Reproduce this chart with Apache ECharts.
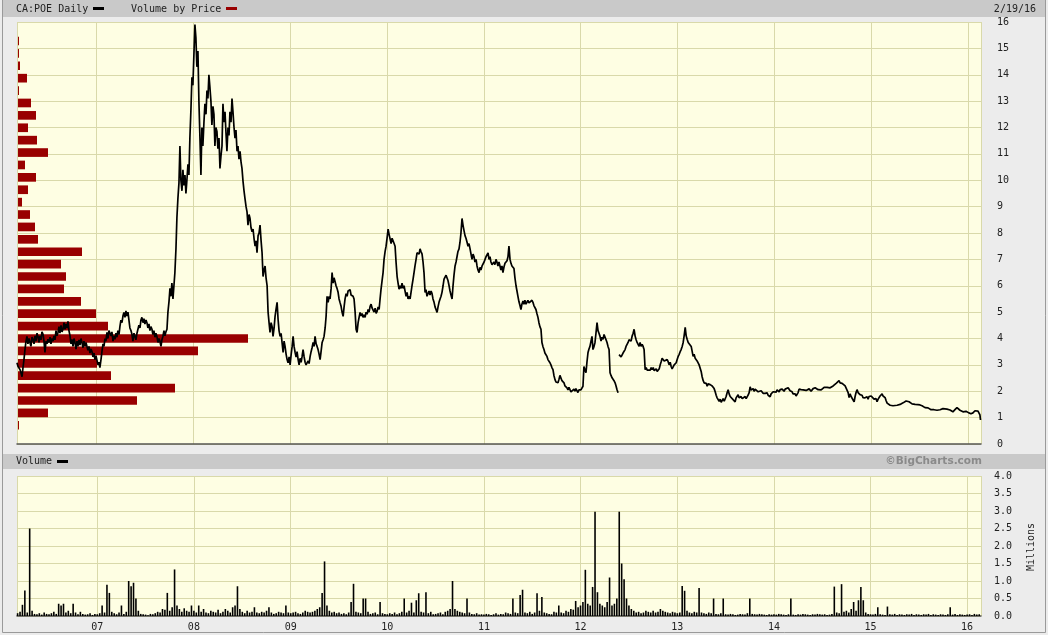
<!DOCTYPE html>
<html>
<head>
<meta charset="utf-8">
<script src="https://cdn.jsdelivr.net/npm/echarts@6/dist/echarts.min.js"></script>
<style>
html,body{margin:0;padding:0;background:#ececec;}
#chart{width:1048px;height:635px;}
</style>
</head>
<body>
<div id="chart"></div>
<script>
// ---------- DATA (dates as decimal years, close prices) ----------
const price2006 = [[2006.177,3.08],[2006.187,2.95],[2006.198,3.0],[2006.208,2.82],[2006.218,2.7],[2006.229,2.55],[2006.239,2.9],[2006.249,3.20],[2006.260,3.6],[2006.270,3.9],[2006.280,4.08],[2006.290,3.8],[2006.301,4.0],[2006.311,3.85],[2006.321,3.7],[2006.332,4.05],[2006.342,3.97],[2006.353,3.8],[2006.363,4.1],[2006.373,3.9],[2006.384,4.2],[2006.394,4.08],[2006.404,3.85],[2006.415,4.1],[2006.425,3.95],[2006.435,4.25],[2006.446,4.16],[2006.456,3.9],[2006.466,3.47],[2006.477,3.9],[2006.487,3.8],[2006.497,3.97],[2006.508,3.85],[2006.518,4.05],[2006.528,3.8],[2006.539,4.0],[2006.549,3.90],[2006.559,4.1],[2006.570,3.95],[2006.580,4.3],[2006.590,4.1],[2006.601,4.23],[2006.611,4.45],[2006.621,4.2],[2006.632,4.5],[2006.642,4.25],[2006.652,4.35],[2006.663,4.6],[2006.673,4.35],[2006.683,4.55],[2006.694,4.4],[2006.704,4.65],[2006.714,4.3],[2006.725,4.1],[2006.735,3.8],[2006.745,3.97],[2006.756,3.7],[2006.766,4.0],[2006.776,3.85],[2006.787,3.6],[2006.797,3.9],[2006.807,3.70],[2006.818,3.95],[2006.828,3.75],[2006.838,4.0],[2006.848,3.85],[2006.859,3.65],[2006.869,3.9],[2006.879,3.7],[2006.890,3.85],[2006.900,3.78],[2006.910,3.55],[2006.921,3.7],[2006.931,3.45],[2006.941,3.6],[2006.952,3.50],[2006.962,3.3],[2006.973,3.45],[2006.983,3.2],[2006.993,3.35]];
const price2007 = [[2007.003,3.28],[2007.014,3.0],[2007.024,3.1],[2007.034,2.90],[2007.045,3.2],[2007.055,3.50],[2007.066,3.8],[2007.076,3.7],[2007.086,4.0],[2007.096,3.9],[2007.107,4.23],[2007.117,4.0],[2007.127,4.3],[2007.138,4.35],[2007.148,4.1],[2007.158,4.25],[2007.169,3.9],[2007.179,4.1],[2007.189,3.97],[2007.200,4.2],[2007.210,4.05],[2007.220,4.3],[2007.231,4.15],[2007.241,4.46],[2007.251,4.7],[2007.262,4.6],[2007.272,4.85],[2007.282,4.99],[2007.293,4.8],[2007.303,5.05],[2007.313,4.85],[2007.324,5.00],[2007.334,4.7],[2007.344,4.4],[2007.355,4.3],[2007.365,4.16],[2007.375,3.9],[2007.386,4.2],[2007.396,4.08],[2007.406,3.95],[2007.417,4.2],[2007.427,4.27],[2007.437,4.5],[2007.448,4.4],[2007.458,4.7],[2007.468,4.80],[2007.479,4.6],[2007.489,4.75],[2007.499,4.55],[2007.510,4.7],[2007.520,4.60],[2007.530,4.4],[2007.541,4.55],[2007.551,4.3],[2007.561,4.45],[2007.572,4.35],[2007.582,4.15],[2007.592,4.3],[2007.603,4.05],[2007.613,4.2],[2007.623,4.08],[2007.634,3.85],[2007.644,4.0],[2007.654,3.90],[2007.665,3.7],[2007.675,3.95],[2007.685,4.08],[2007.696,4.3],[2007.706,4.1],[2007.716,4.25],[2007.727,4.35],[2007.737,5.00],[2007.748,5.4],[2007.758,5.90],[2007.768,5.6],[2007.778,6.10],[2007.789,5.50],[2007.799,6.0],[2007.809,6.50],[2007.820,7.40],[2007.830,8.60],[2007.840,9.30],[2007.851,9.90],[2007.861,11.30],[2007.871,10.00],[2007.882,9.60],[2007.892,10.40],[2007.902,9.80],[2007.913,10.20],[2007.923,9.50],[2007.933,10.00],[2007.944,10.60],[2007.954,10.20],[2007.964,11.60],[2007.975,12.70],[2007.985,13.90],[2007.995,13.60]];
const price2008 = [[2008.016,15.9],[2008.026,15.4],[2008.036,14.3],[2008.047,14.9],[2008.057,13.0],[2008.067,11.7],[2008.078,10.2],[2008.088,12.0],[2008.098,11.3],[2008.109,12.2],[2008.119,12.9],[2008.130,12.5],[2008.140,13.4],[2008.150,13.1],[2008.160,14.0],[2008.171,13.5],[2008.181,13.0],[2008.191,12.1],[2008.202,12.8],[2008.212,12.5],[2008.222,11.3],[2008.232,12.0],[2008.243,11.85],[2008.253,11.2],[2008.264,11.6],[2008.274,10.45],[2008.284,10.9],[2008.295,11.3],[2008.305,12.9],[2008.315,12.2],[2008.326,12.6],[2008.336,11.8],[2008.346,11.1],[2008.357,12.0],[2008.367,11.7],[2008.377,12.6],[2008.388,12.2],[2008.398,13.1],[2008.408,12.6],[2008.419,12.0],[2008.429,11.6],[2008.439,11.9],[2008.450,11.1],[2008.460,11.3],[2008.470,10.8],[2008.481,11.1],[2008.491,10.7],[2008.501,10.45],[2008.512,9.95],[2008.522,9.6],[2008.532,9.3],[2008.543,9.0],[2008.553,8.8],[2008.563,8.3],[2008.574,8.7],[2008.584,8.55],[2008.594,8.2],[2008.605,8.05],[2008.615,8.15],[2008.625,7.8],[2008.636,7.5],[2008.646,7.7],[2008.656,7.25],[2008.667,7.9],[2008.677,8.0],[2008.687,8.3],[2008.698,7.7],[2008.708,7.25],[2008.718,6.35],[2008.729,6.6],[2008.739,6.75],[2008.749,6.3],[2008.760,6.0],[2008.770,5.0],[2008.780,4.6],[2008.790,4.23],[2008.801,4.6],[2008.811,4.46],[2008.821,4.08],[2008.832,4.4],[2008.842,4.84],[2008.852,5.1],[2008.863,5.37],[2008.873,4.73],[2008.883,4.3],[2008.894,4.08],[2008.904,4.2],[2008.914,3.85],[2008.925,3.47],[2008.935,3.9],[2008.945,3.7],[2008.956,3.4],[2008.966,3.2],[2008.976,3.08],[2008.987,3.3],[2008.997,3.0]];
const price2009 = [[2009.008,3.4],[2009.018,3.70],[2009.028,4.08],[2009.038,3.7],[2009.049,3.47],[2009.059,3.3],[2009.069,3.5],[2009.080,3.20],[2009.090,3.0],[2009.100,3.25],[2009.111,3.1],[2009.121,3.32],[2009.131,3.58],[2009.142,3.3],[2009.152,3.1],[2009.162,3.0],[2009.173,2.94],[2009.183,3.15],[2009.193,3.05],[2009.204,3.32],[2009.214,3.5],[2009.224,3.65],[2009.235,3.85],[2009.245,3.7],[2009.255,4.08],[2009.266,3.8],[2009.276,3.7],[2009.286,3.58],[2009.297,3.4],[2009.307,3.20],[2009.317,3.5],[2009.328,3.85],[2009.338,3.95],[2009.348,4.08],[2009.359,4.4],[2009.369,4.84],[2009.379,5.60],[2009.390,5.37],[2009.400,5.6],[2009.410,5.50],[2009.421,5.9],[2009.431,6.50],[2009.441,6.10],[2009.451,6.3],[2009.462,6.15],[2009.472,6.00],[2009.482,5.9],[2009.493,5.75],[2009.503,5.5],[2009.514,5.35],[2009.524,5.22],[2009.534,5.0],[2009.545,4.84],[2009.555,5.2],[2009.565,5.50],[2009.576,5.7],[2009.586,5.6],[2009.596,5.80],[2009.607,5.75],[2009.617,5.85],[2009.627,5.65],[2009.638,5.70],[2009.648,5.6],[2009.658,5.50],[2009.669,5.0],[2009.679,4.35],[2009.689,4.23],[2009.700,4.6],[2009.710,4.8],[2009.720,4.99],[2009.731,4.85],[2009.741,4.95],[2009.751,4.80],[2009.762,4.9],[2009.772,4.8],[2009.782,5.0],[2009.793,4.92],[2009.803,5.1],[2009.813,5.0],[2009.824,5.22],[2009.834,5.3],[2009.845,5.15],[2009.855,5.10],[2009.865,5.0],[2009.876,5.15],[2009.886,4.95],[2009.896,5.03],[2009.907,5.2],[2009.917,5.10],[2009.927,5.5],[2009.937,5.87],[2009.948,6.2],[2009.958,6.50],[2009.968,7.00],[2009.979,7.3],[2009.989,7.50],[2009.999,7.8]];
const price2010 = [[2010.010,8.15],[2010.020,7.95],[2010.030,7.90],[2010.041,7.6],[2010.051,7.8],[2010.061,7.75],[2010.072,7.6],[2010.082,7.50],[2010.092,6.90],[2010.103,6.35],[2010.113,6.1],[2010.123,5.87],[2010.134,6.0],[2010.144,5.9],[2010.154,6.10],[2010.165,5.9],[2010.175,6.00],[2010.185,5.8],[2010.196,5.60],[2010.206,5.75],[2010.216,5.50],[2010.226,5.6],[2010.237,5.5],[2010.247,5.75],[2010.257,6.0],[2010.268,6.25],[2010.278,6.5],[2010.288,6.75],[2010.299,7.0],[2010.309,7.25],[2010.319,7.3],[2010.330,7.2],[2010.340,7.40],[2010.350,7.3],[2010.361,7.20],[2010.371,6.9],[2010.381,6.50],[2010.392,5.75],[2010.402,5.85],[2010.412,5.6],[2010.423,5.60],[2010.433,5.8],[2010.443,5.65],[2010.454,5.8],[2010.464,5.70],[2010.474,5.5],[2010.485,5.37],[2010.495,5.2],[2010.505,5.1],[2010.516,4.99],[2010.526,5.2],[2010.536,5.37],[2010.547,5.5],[2010.557,5.6],[2010.567,5.75],[2010.578,6.0],[2010.588,6.25],[2010.598,6.2],[2010.609,6.4],[2010.619,6.35],[2010.629,6.2],[2010.640,6.00],[2010.650,5.8],[2010.660,5.65],[2010.671,5.50],[2010.681,6.00],[2010.691,6.4],[2010.702,6.75],[2010.712,6.9],[2010.722,7.10],[2010.732,7.3],[2010.743,7.4],[2010.753,7.65],[2010.763,8.0],[2010.774,8.55],[2010.784,8.30],[2010.794,8.1],[2010.805,7.90],[2010.815,7.8],[2010.826,7.65],[2010.836,7.5],[2010.846,7.6],[2010.857,7.40],[2010.867,7.2],[2010.877,7.00],[2010.888,7.2],[2010.898,7.10],[2010.908,6.9],[2010.919,7.0],[2010.929,6.75],[2010.939,6.6],[2010.950,6.50],[2010.960,6.7],[2010.970,6.6],[2010.981,6.75]];
const price2011 = [[2011.002,6.9],[2011.012,7.00],[2011.022,7.1],[2011.033,7.05],[2011.043,7.25],[2011.053,7.0],[2011.063,7.1],[2011.073,6.90],[2011.084,6.8],[2011.094,6.75],[2011.104,6.9],[2011.114,6.8],[2011.125,7.0],[2011.135,6.90],[2011.145,6.75],[2011.156,6.9],[2011.166,6.75],[2011.176,6.6],[2011.187,6.75],[2011.197,6.50],[2011.207,6.7],[2011.218,6.85],[2011.228,6.8],[2011.239,6.95],[2011.249,7.1],[2011.259,7.50],[2011.270,7.0],[2011.280,6.85],[2011.290,6.75],[2011.300,6.8],[2011.311,6.65],[2011.321,6.3],[2011.332,6.00],[2011.342,5.8],[2011.352,5.60],[2011.362,5.4],[2011.373,5.25],[2011.383,5.10],[2011.393,5.3],[2011.404,5.42],[2011.414,5.3],[2011.424,5.45],[2011.435,5.3],[2011.445,5.37],[2011.455,5.45],[2011.466,5.35],[2011.476,5.42],[2011.486,5.3],[2011.497,5.45],[2011.507,5.37],[2011.517,5.25],[2011.528,5.2],[2011.538,5.10],[2011.548,4.95],[2011.559,4.80],[2011.569,4.6],[2011.579,4.45],[2011.590,4.35],[2011.600,3.85],[2011.610,3.7],[2011.621,3.58],[2011.631,3.45],[2011.641,3.5],[2011.652,3.32],[2011.662,3.2],[2011.672,3.25],[2011.683,3.08],[2011.693,3.0],[2011.703,2.9],[2011.714,2.82],[2011.724,2.6],[2011.735,2.44],[2011.745,2.35],[2011.755,2.4],[2011.766,2.32],[2011.776,2.45],[2011.786,2.6],[2011.797,2.55],[2011.807,2.4],[2011.817,2.45],[2011.828,2.32],[2011.838,2.2],[2011.848,2.25],[2011.859,2.13],[2011.869,2.05],[2011.879,2.15],[2011.890,2.06],[2011.900,1.98],[2011.910,2.05],[2011.920,1.98],[2011.931,2.08],[2011.941,2.0],[2011.951,2.1],[2011.962,2.06],[2011.972,1.95],[2011.982,2.05],[2011.993,1.98]];
const price2012 = [[2012.003,2.05],[2012.014,2.1],[2012.024,2.19],[2012.034,2.94],[2012.045,2.8],[2012.055,2.70],[2012.065,3.1],[2012.076,3.47],[2012.086,3.6],[2012.096,3.70],[2012.107,3.9],[2012.117,4.08],[2012.127,3.58],[2012.138,3.7],[2012.148,3.85],[2012.158,4.2],[2012.169,4.60],[2012.179,4.3],[2012.189,4.2],[2012.200,4.08],[2012.210,3.9],[2012.220,4.05],[2012.231,3.97],[2012.241,4.15],[2012.251,4.08],[2012.262,3.95],[2012.272,3.85],[2012.282,3.7],[2012.293,3.58],[2012.303,2.70],[2012.313,2.6],[2012.324,2.51],[2012.334,2.45],[2012.344,2.4],[2012.355,2.32],[2012.365,2.2],[2012.375,2.06],[2012.386,1.94],[2012.391,null],[2012.396,3.39],[2012.406,3.45],[2012.417,3.3],[2012.427,3.32],[2012.437,3.45],[2012.448,3.5],[2012.458,3.58],[2012.468,3.7],[2012.479,3.75],[2012.489,3.85],[2012.499,3.95],[2012.510,4.0],[2012.520,3.9],[2012.530,4.08],[2012.541,4.2],[2012.551,4.35],[2012.561,4.1],[2012.572,3.95],[2012.582,3.85],[2012.592,3.8],[2012.603,3.70],[2012.613,3.85],[2012.623,3.7],[2012.634,3.78],[2012.644,3.7],[2012.654,3.58],[2012.665,2.82],[2012.675,2.9],[2012.686,2.8],[2012.696,2.75],[2012.706,2.85],[2012.717,2.8],[2012.727,2.9],[2012.737,2.82],[2012.748,2.9],[2012.758,2.78],[2012.768,2.75],[2012.779,2.85],[2012.789,2.75],[2012.799,2.70],[2012.810,2.85],[2012.820,3.0],[2012.830,3.12],[2012.840,3.25],[2012.850,3.28],[2012.861,3.15],[2012.871,3.2],[2012.881,3.08],[2012.892,3.2],[2012.902,3.12],[2012.912,3.0],[2012.923,3.1],[2012.933,2.94],[2012.943,2.85],[2012.954,2.90],[2012.964,3.0],[2012.975,2.95],[2012.985,3.08],[2012.995,3.2]];
const price2013 = [[2013.005,3.32],[2013.016,3.4],[2013.026,3.5],[2013.036,3.58],[2013.047,3.7],[2013.057,3.85],[2013.067,4.1],[2013.078,4.42],[2013.088,4.1],[2013.098,3.97],[2013.109,3.85],[2013.119,3.78],[2013.129,3.85],[2013.140,3.7],[2013.150,3.70],[2013.160,3.32],[2013.170,3.4],[2013.181,3.25],[2013.191,3.28],[2013.201,3.15],[2013.212,3.08],[2013.222,3.0],[2013.233,2.94],[2013.243,2.75],[2013.253,2.55],[2013.264,2.4],[2013.274,2.32],[2013.284,2.25],[2013.295,2.3],[2013.305,2.19],[2013.315,2.28],[2013.326,2.32],[2013.336,2.25],[2013.346,2.3],[2013.357,2.2],[2013.367,2.25],[2013.377,2.1],[2013.388,1.98],[2013.398,1.85],[2013.408,1.75],[2013.419,1.68],[2013.429,1.62],[2013.439,1.7],[2013.450,1.58],[2013.460,1.60],[2013.470,1.72],[2013.481,1.62],[2013.491,1.68],[2013.501,1.8],[2013.512,1.95],[2013.522,2.06],[2013.532,1.9],[2013.543,1.8],[2013.553,1.85],[2013.563,1.79],[2013.573,1.68],[2013.584,1.72],[2013.594,1.60],[2013.604,1.75],[2013.615,1.8],[2013.625,1.87],[2013.635,1.75],[2013.646,1.68],[2013.656,1.8],[2013.667,1.72],[2013.677,1.79],[2013.687,1.7],[2013.698,1.8],[2013.708,1.72],[2013.718,1.76],[2013.728,1.85],[2013.739,1.95],[2013.749,2.17],[2013.759,2.05],[2013.770,2.12],[2013.780,2.10],[2013.790,2.0],[2013.801,2.08],[2013.811,2.02],[2013.821,2.06],[2013.832,1.98],[2013.842,2.04],[2013.852,1.96],[2013.863,2.02],[2013.873,1.98],[2013.883,1.92],[2013.894,1.98],[2013.904,1.92],[2013.914,1.97],[2013.925,1.94],[2013.935,1.85],[2013.945,1.82],[2013.956,1.79],[2013.966,1.9],[2013.976,1.95],[2013.987,1.98]];
const price2014 = [[2014.007,2.04],[2014.018,1.97],[2014.028,2.05],[2014.038,2.02],[2014.049,1.98],[2014.059,2.06],[2014.069,2.0],[2014.080,2.08],[2014.090,2.06],[2014.100,2.0],[2014.111,2.08],[2014.121,2.12],[2014.131,2.05],[2014.142,2.13],[2014.152,2.08],[2014.162,2.02],[2014.173,2.05],[2014.183,1.98],[2014.193,1.9],[2014.204,1.85],[2014.214,1.9],[2014.224,1.82],[2014.235,1.79],[2014.245,1.95],[2014.255,2.08],[2014.266,2.13],[2014.276,2.06],[2014.286,2.12],[2014.297,2.05],[2014.307,2.1],[2014.317,2.10],[2014.328,2.03],[2014.338,2.08],[2014.348,2.02],[2014.359,2.09],[2014.369,2.06],[2014.379,2.0],[2014.390,2.07],[2014.400,2.1],[2014.410,2.05],[2014.421,2.13],[2014.431,2.08],[2014.441,2.12],[2014.452,2.06],[2014.462,2.12],[2014.472,2.10],[2014.483,2.05],[2014.493,2.12],[2014.503,2.08],[2014.514,2.15],[2014.524,2.13],[2014.534,2.08],[2014.545,2.15],[2014.555,2.1],[2014.565,2.16],[2014.576,2.13],[2014.586,2.18],[2014.596,2.14],[2014.607,2.2],[2014.617,2.18],[2014.627,2.25],[2014.638,2.3],[2014.648,2.28],[2014.658,2.35],[2014.668,2.40],[2014.679,2.32],[2014.689,2.38],[2014.700,2.3],[2014.710,2.25],[2014.720,2.3],[2014.731,2.2],[2014.741,2.25],[2014.751,2.13],[2014.762,1.95],[2014.772,1.76],[2014.782,1.9],[2014.793,1.8],[2014.803,1.87],[2014.813,1.75],[2014.824,1.60],[2014.834,1.8],[2014.844,1.95],[2014.854,2.06],[2014.865,1.95],[2014.875,1.92],[2014.885,1.87],[2014.896,1.8],[2014.906,1.85],[2014.916,1.76],[2014.927,1.82],[2014.937,1.75],[2014.947,1.82],[2014.958,1.79],[2014.968,1.7],[2014.978,1.8],[2014.989,1.76]];
const price2015 = [[2015.000,1.82],[2015.010,1.75],[2015.020,1.79],[2015.030,1.7],[2015.041,1.65],[2015.051,1.72],[2015.061,1.60],[2015.072,1.7],[2015.082,1.75],[2015.092,1.82],[2015.103,1.85],[2015.113,1.90],[2015.123,1.82],[2015.134,1.8],[2015.144,1.76],[2015.154,1.65],[2015.165,1.55],[2015.175,1.49],[2015.185,1.52],[2015.196,1.47],[2015.206,1.5],[2015.216,1.44],[2015.226,1.45],[2015.237,1.5],[2015.247,1.46],[2015.257,1.52],[2015.268,1.47],[2015.278,1.49],[2015.288,1.54],[2015.299,1.5],[2015.309,1.56],[2015.319,1.52],[2015.330,1.56],[2015.340,1.6],[2015.350,1.57],[2015.361,1.63],[2015.371,1.58],[2015.381,1.64],[2015.392,1.6],[2015.402,1.56],[2015.412,1.58],[2015.423,1.52],[2015.433,1.53],[2015.443,1.56],[2015.454,1.5],[2015.464,1.53],[2015.474,1.47],[2015.484,1.49],[2015.495,1.45],[2015.505,1.48],[2015.515,1.42],[2015.526,1.45],[2015.536,1.41],[2015.546,1.44],[2015.557,1.38],[2015.567,1.41],[2015.577,1.36],[2015.588,1.37],[2015.598,1.33],[2015.608,1.36],[2015.619,1.3],[2015.629,1.28],[2015.639,1.26],[2015.650,1.3],[2015.660,1.27],[2015.670,1.32],[2015.681,1.28],[2015.691,1.30],[2015.701,1.34],[2015.712,1.3],[2015.722,1.35],[2015.732,1.31],[2015.742,1.34],[2015.753,1.3],[2015.763,1.33],[2015.773,1.28],[2015.784,1.32],[2015.794,1.30],[2015.804,1.26],[2015.815,1.29],[2015.825,1.24],[2015.835,1.27],[2015.845,1.22],[2015.856,1.26],[2015.866,1.3],[2015.876,1.35],[2015.887,1.38],[2015.897,1.41],[2015.907,1.32],[2015.918,1.28],[2015.928,1.25],[2015.938,1.27],[2015.949,1.22],[2015.959,1.25],[2015.969,1.21],[2015.980,1.24],[2015.990,1.2]];
const price2016 = [[2016.000,1.22],[2016.010,1.18],[2016.021,1.2],[2016.031,1.15],[2016.042,1.14],[2016.052,1.18],[2016.062,1.22],[2016.073,1.26],[2016.083,1.3],[2016.093,1.30],[2016.104,1.25],[2016.114,1.28],[2016.124,1.1],[2016.130,0.91]];

// Volume (millions), 40 slots per year
const vol2006 = [null,null,null,null,null,null,null,0.08,0.12,0.32,0.73,0.10,2.50,0.15,0.06,0.05,0.08,0.04,0.10,0.06,0.05,0.08,0.12,0.06,0.35,0.30,0.35,0.10,0.15,0.08,0.35,0.10,0.05,0.12,0.06,0.04,0.05,0.08,0.03,0.06];
const vol2007 = [0.05,0.08,0.30,0.10,0.89,0.66,0.12,0.08,0.05,0.10,0.30,0.06,0.12,1.00,0.85,0.95,0.50,0.15,0.06,0.05,0.04,0.02,0.06,0.05,0.08,0.12,0.10,0.20,0.18,0.66,0.15,0.25,1.33,0.30,0.20,0.12,0.22,0.15,0.12,0.30];
const vol2008 = [0.15,0.10,0.30,0.12,0.20,0.10,0.08,0.15,0.12,0.10,0.18,0.08,0.12,0.20,0.15,0.10,0.25,0.30,0.85,0.20,0.12,0.08,0.15,0.10,0.12,0.25,0.10,0.08,0.12,0.10,0.15,0.25,0.10,0.06,0.08,0.12,0.10,0.08,0.30,0.10];
const vol2009 = [0.08,0.10,0.12,0.08,0.06,0.10,0.15,0.12,0.10,0.12,0.15,0.20,0.25,0.66,1.56,0.30,0.15,0.10,0.12,0.08,0.10,0.06,0.08,0.05,0.10,0.40,0.92,0.12,0.10,0.08,0.50,0.50,0.12,0.06,0.08,0.10,0.05,0.40,0.08,0.06];
const vol2010 = [0.05,0.08,0.06,0.10,0.05,0.08,0.12,0.50,0.10,0.15,0.38,0.10,0.45,0.65,0.12,0.10,0.68,0.08,0.12,0.05,0.06,0.08,0.10,0.05,0.12,0.15,0.20,1.00,0.20,0.15,0.12,0.10,0.08,0.50,0.10,0.06,0.05,0.08,0.04,0.05];
const vol2011 = [0.04,0.06,0.05,0.03,0.05,0.08,0.04,0.06,0.05,0.10,0.08,0.06,0.50,0.10,0.08,0.60,0.75,0.10,0.08,0.12,0.06,0.10,0.65,0.15,0.54,0.10,0.08,0.06,0.05,0.12,0.10,0.30,0.10,0.08,0.15,0.12,0.20,0.18,0.43,0.25];
const vol2012 = [0.30,0.40,1.32,0.35,0.30,0.83,2.98,0.68,0.35,0.30,0.25,0.40,1.10,0.30,0.35,0.50,2.98,1.50,1.05,0.50,0.30,0.20,0.15,0.10,0.12,0.08,0.10,0.15,0.12,0.10,0.15,0.10,0.12,0.20,0.15,0.12,0.10,0.08,0.12,0.10];
const vol2013 = [0.08,0.10,0.86,0.72,0.15,0.10,0.08,0.12,0.10,0.80,0.10,0.08,0.06,0.10,0.08,0.50,0.06,0.05,0.08,0.50,0.05,0.04,0.06,0.05,0.03,0.04,0.06,0.05,0.04,0.08,0.50,0.06,0.05,0.04,0.06,0.05,0.04,0.03,0.05,0.04];
const vol2014 = [0.05,0.04,0.06,0.05,0.04,0.03,0.05,0.50,0.04,0.03,0.05,0.04,0.06,0.05,0.04,0.03,0.05,0.04,0.06,0.05,0.04,0.05,0.03,0.04,0.06,0.84,0.10,0.08,0.91,0.12,0.15,0.10,0.20,0.40,0.15,0.45,0.83,0.45,0.10,0.06];
const vol2015 = [0.05,0.04,0.06,0.25,0.05,0.04,0.03,0.27,0.05,0.04,0.06,0.03,0.05,0.04,0.03,0.05,0.04,0.06,0.03,0.05,0.04,0.03,0.05,0.04,0.06,0.03,0.05,0.04,0.03,0.05,0.04,0.03,0.05,0.25,0.04,0.06,0.03,0.05,0.04,0.03];
const vol2016 = [0.04,0.05,0.03,0.06,0.04,0.05];

// Volume by price (relative volume per price bucket)
const vbpPrice = [15.28,14.81,14.34,13.87,13.40,12.93,12.46,11.99,11.52,11.05,10.58,10.11,9.64,9.17,8.70,8.23,7.76,7.29,6.82,6.35,5.88,5.41,4.94,4.47,4.00,3.53,3.06,2.59,2.12,1.65,1.18,0.71];
const vbpVolume = [1,1,2,9,1,13,18,10,19,30,7,18,10,4,12,17,20,64,43,48,46,63,78,90,230,180,79,93,157,119,30,1];
const vbpBucket = 0.47;

const startYear = 2006.177, endYear = 2016.135;
const priceTicks = [0,1,2,3,4,5,6,7,8,9,10,11,12,13,14,15,16];
const volTicks = [0,0.5,1,1.5,2,2.5,3,3.5,4];

// ---------- BUILD ----------
function yearToTs(t){
  const y = Math.floor(t);
  const s = Date.UTC(y,0,1), e = Date.UTC(y+1,0,1);
  return s + (t - y) * (e - s);
}
const priceData = [].concat(price2006,price2007,price2008,price2009,price2010,price2011,price2012,price2013,price2014,price2015,price2016)
  .map(p => [yearToTs(p[0]), p[1]]);
const volYears = [[2006,vol2006],[2007,vol2007],[2008,vol2008],[2009,vol2009],[2010,vol2010],[2011,vol2011],[2012,vol2012],[2013,vol2013],[2014,vol2014],[2015,vol2015],[2016,vol2016]];
const volData = [];
volYears.forEach(([y, arr]) => arr.forEach((v,i) => { if (v !== null) volData.push([yearToTs(y + i/40), v]); }));
const vbpData = vbpVolume.map((v,i) => [v, vbpPrice[i]]);

const mono = 'DejaVu Sans Mono';
const gridColor = '#d9d9aa';
const plotBg = '#fefee3';
const tMin = yearToTs(startYear), tMax = yearToTs(endYear);

const chart = echarts.init(document.getElementById('chart'), null, {renderer:'canvas'});
chart.setOption({
  backgroundColor: '#ececec',
  animation: false,
  useUTC: true,
  grid: [
    {left:17, right:67, top:22, height:422, show:true, backgroundColor:plotBg, borderWidth:0, outerBoundsMode:'none'},
    {left:17, right:67, top:476, height:140, show:true, backgroundColor:plotBg, borderWidth:0, outerBoundsMode:'none'}
  ],
  xAxis: [
    {type:'time', gridIndex:0, min:tMin, max:tMax, splitNumber:10, minInterval:300*864e5,
     axisLabel:{show:false}, axisTick:{show:false},
     axisLine:{show:true, lineStyle:{color:'#555', width:1.5}},
     splitLine:{show:true, lineStyle:{color:gridColor, width:1}}},
    {type:'time', gridIndex:1, min:tMin, max:tMax, splitNumber:10, minInterval:300*864e5,
     axisLabel:{show:true, color:'#222', fontFamily:mono, fontSize:10, margin:6, showMinLabel:false, showMaxLabel:false,
       formatter: v => String(new Date(v).getUTCFullYear()).slice(2)},
     axisTick:{show:false},
     axisLine:{show:true, lineStyle:{color:'#555', width:1.5}},
     splitLine:{show:true, lineStyle:{color:gridColor, width:1}}},
    {type:'value', gridIndex:0, min:0, max:964, show:false}
  ],
  yAxis: [
    {type:'value', gridIndex:0, position:'right', min:priceTicks[0], max:priceTicks[priceTicks.length-1], interval:1,
     axisLine:{show:false}, axisTick:{show:false},
     axisLabel:{color:'#222', fontFamily:mono, fontSize:10, margin:16},
     splitLine:{show:true, lineStyle:{color:gridColor, width:1}}},
    {type:'value', gridIndex:1, position:'right', min:volTicks[0], max:volTicks[volTicks.length-1], interval:0.5,
     axisLine:{show:false}, axisTick:{show:false},
     axisLabel:{color:'#222', fontFamily:mono, fontSize:10, margin:13, formatter: v => v.toFixed(1)},
     splitLine:{show:true, lineStyle:{color:gridColor, width:1}}}
  ],
  series: [
    {type:'custom', name:'Volume by Price', xAxisIndex:2, yAxisIndex:0, data:vbpData, z:2, silent:true,
     renderItem: (params, api) => {
       const v = api.value(0), p = api.value(1);
       const a = api.coord([0, p]), b = api.coord([v, p]);
       const h = api.size([0, vbpBucket])[1] * 0.7;
       return {type:'rect', shape:{x:a[0]+1, y:a[1]-h/2, width:Math.max(1, b[0]-a[0]), height:h}, style:{fill:'#990000'}};
     }},
    {type:'line', name:'CA:POE Daily', xAxisIndex:0, yAxisIndex:0, data:priceData, showSymbol:false, connectNulls:false,
     lineStyle:{color:'#000', width:1.7}, z:5, silent:true},
    {type:'bar', name:'Volume', xAxisIndex:1, yAxisIndex:1, data:volData, barWidth:1.6,
     itemStyle:{color:'#000'}, z:5, silent:true}
  ],
  graphic: [
    {type:'rect', shape:{x:2.5, y:-1, width:1043, height:633.5}, style:{fill:'none', stroke:'#9a9a9a', lineWidth:1}, z:-1},
    {type:'rect', shape:{x:3, y:0, width:1042, height:17}, style:{fill:'#c9c9c9'}, z:-1},
    {type:'text', x:16, y:9, style:{text:'CA:POE Daily', font:'10px "DejaVu Sans Mono"', fill:'#222', verticalAlign:'middle'}},
    {type:'rect', shape:{x:93, y:7, width:11, height:3}, style:{fill:'#000'}},
    {type:'text', x:131, y:9, style:{text:'Volume by Price', font:'10px "DejaVu Sans Mono"', fill:'#222', verticalAlign:'middle'}},
    {type:'rect', shape:{x:226, y:7, width:11, height:3}, style:{fill:'#990000'}},
    {type:'text', x:1036, y:9, style:{text:'2/19/16', font:'10px "DejaVu Sans Mono"', fill:'#222', align:'right', verticalAlign:'middle'}},
    {type:'rect', shape:{x:3, y:454, width:1042, height:15}, style:{fill:'#c9c9c9'}, z:-1},
    {type:'text', x:16, y:461.5, style:{text:'Volume', font:'10px "DejaVu Sans Mono"', fill:'#222', verticalAlign:'middle'}},
    {type:'rect', shape:{x:57, y:460, width:11, height:3}, style:{fill:'#000'}},
    {type:'text', x:982, y:461.5, style:{text:'©BigCharts.com', font:'bold 10.5px "DejaVu Sans"', fill:'#8a8a8a', align:'right', verticalAlign:'middle'}},
    {type:'text', x:1031, y:547, rotation:Math.PI/2, style:{text:'Millions', font:'10px "DejaVu Sans Mono"', fill:'#222', align:'center', verticalAlign:'middle'}}
  ]
});
</script>
</body>
</html>
